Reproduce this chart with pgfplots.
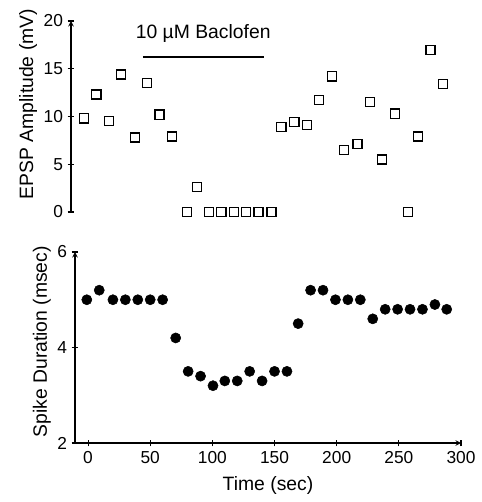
\documentclass[border=0pt]{standalone}
\usepackage{pgfplots}
\pgfplotsset{compat=1.18}
\usepackage{fontspec}
\setmainfont{Liberation Sans}

% EPSP amplitude (top panel)
\pgfplotstableread{
t v
-3 9.8
7 12.3
17 9.5
27 14.4
38 7.8
48 13.5
58 10.2
68 7.9
80 0
88.5 2.6
98 0
108 0
118 0
128 0
138 0
148.5 0
156.5 8.9
167 9.4
177 9.1
187 11.7
197.5 14.2
207 6.5
218 7.1
228 11.5
238 5.5
248 10.3
258.5 0
267 7.9
277 17.0
287 13.4
}\epsp

% spike duration (bottom panel)
\pgfplotstableread{
t d
-1 5.0
9 5.2
20 5.0
30 5.0
40 5.0
50 5.0
60 5.0
70.5 4.2
80.5 3.5
90.5 3.4
100.5 3.2
110 3.3
120 3.3
130 3.5
140 3.3
150 3.5
160 3.5
169 4.5
179 5.2
189 5.2
199 5.0
209 5.0
219 5.0
229 4.6
239 4.8
249 4.8
259 4.8
269 4.8
279 4.9
288.5 4.8
}\spike

\begin{document}
\begin{tikzpicture}
\useasboundingbox (0,0) rectangle (360.75pt,376.5pt);
\pgfplotsset{
  every axis/.style={
    scale only axis,
    anchor=south west,
    width=291pt,
    height=143.25pt,
    axis line style={-, line width=0.8pt},
    tick align=inside,
    major tick length=5pt,
    tick style={line width=0.8pt, black},
    tick label style={font=\fontsize{13}{15}\selectfont},
    label style={font=\fontsize{14.5}{17}\selectfont},
    /pgf/number format/assume math mode=true,
    clip=false,
  },
}
% top panel
\begin{axis}[
  at={(53.25pt,217.5pt)},
  xmin=-13.5, xmax=300,
  ymin=0, ymax=20,
  axis x line=none,
  axis y line=left,
  ytick={0,5,10,15,20},
  ylabel={EPSP Amplitude (mV)},
  ylabel style={at={(ticklabel cs:0.565)}, yshift=-2pt},
]
\addplot[only marks, mark=square, mark size=3.4pt, mark options={line width=0.9pt, fill=white}] table[x=t, y=v] {\epsp};
\draw[line width=1.3pt] (axis cs:44.5,16.2) -- (axis cs:142.4,16.2);
\node[font=\fontsize{14.5}{17}\selectfont] at (axis cs:93.3,18.7) {10 µM Baclofen};
\end{axis}
% bottom panel
\begin{axis}[
  at={(56.25pt,44.25pt)},
  width=289.5pt,
  xmin=-10.5, xmax=300,
  ymin=2, ymax=6,
  axis x line=bottom,
  axis y line=left,
  xtick={0,50,100,150,200,250,300},
  ytick={2,4,6},
  xlabel={Time (sec)},
  xlabel style={yshift=-3pt},
  ylabel={Spike Duration (msec)},
  ylabel style={at={(ticklabel cs:0.53)}, yshift=-2pt},
]
\addplot[only marks, mark=*, mark size=3.8pt, mark options={fill=black}] table[x=t, y=d] {\spike};
\end{axis}
\end{tikzpicture}
\end{document}
